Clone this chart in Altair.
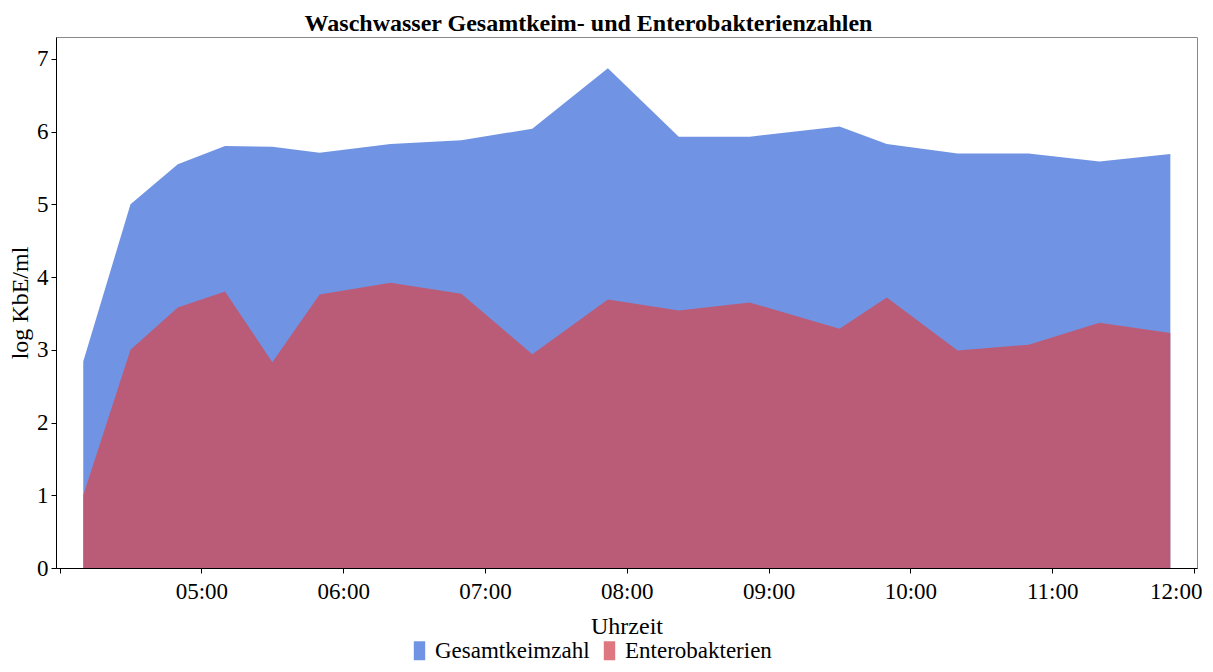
import altair as alt
import pandas as pd

# ---- data ----
times = ["04:10", "04:30", "04:50", "05:10", "05:30", "05:50", "06:20", "06:50", "07:20",
         "07:52", "08:22", "08:52", "09:30", "09:50", "10:20", "10:50", "11:20", "11:50"]
gesamt = [2.84, 5.00, 5.55, 5.80, 5.79, 5.71, 5.83, 5.88, 6.04,
          6.87, 5.93, 5.93, 6.07, 5.83, 5.70, 5.70, 5.59, 5.69]
entero = [1.00, 3.00, 3.58, 3.80, 2.83, 3.76, 3.92, 3.77, 2.94,
          3.69, 3.54, 3.65, 3.29, 3.72, 2.99, 3.07, 3.37, 3.23]
series_names = ["Gesamtkeimzahl", "Enterobakterien"]
series_colors = ["#4070DA", "#D34954"]
hour_ticks = [4, 5, 6, 7, 8, 9, 10, 11, 12]


def to_hours(t):
    h, m = t.split(":")
    return int(h) + int(m) / 60.0


df = pd.DataFrame({
    "Uhrzeit": [to_hours(t) for t in times] * 2,
    "Wert": gesamt + entero,
    "Reihe": [series_names[0]] * len(times) + [series_names[1]] * len(times),
})

FONT = "Liberation Serif"

x_enc = alt.X(
    "Uhrzeit:Q",
    title="Uhrzeit",
    scale=alt.Scale(domain=[3.9746, 12.0213], nice=False, zero=False),
    axis=alt.Axis(
        values=hour_ticks,
        labelExpr="datum.value == 4 ? '' : (datum.value < 10 ? '0' : '') + datum.value + ':00'",
        tickSize=5, labelPadding=7, titlePadding=11,
        labelFontSize=23, titleFontSize=24, titleFontWeight="normal",
        domainColor="black", tickColor="black", labelColor="black", titleColor="black",
        grid=False, labelFlush=6, labelFlushOffset=8,
    ),
)
y_enc = alt.Y(
    "Wert:Q",
    title="log KbE/ml",
    stack=None,
    scale=alt.Scale(domain=[0, 7.3], nice=False),
    axis=alt.Axis(
        values=[0, 1, 2, 3, 4, 5, 6, 7],
        tickSize=5, labelPadding=3, titlePadding=4,
        labelFontSize=23, titleFontSize=24, titleFontWeight="normal",
        domainColor="black", tickColor="black", labelColor="black", titleColor="black",
        grid=False, labelFlush=False,
    ),
)
color_enc = alt.Color(
    "Reihe:N",
    scale=alt.Scale(domain=series_names, range=series_colors),
    legend=alt.Legend(
        title=None, orient="none", direction="horizontal",
        legendX=352, legendY=602,
        symbolType="M-0.6,-1H0.6V1H-0.6Z", symbolSize=361,
        symbolOpacity=0.75, symbolStrokeWidth=0,
        labelFontSize=23, labelColor="black", labelOffset=4, columnPadding=8,
        labelFont=FONT, labelLimit=0,
    ),
)

base = alt.Chart(df)
blue = base.transform_filter(alt.datum.Reihe == series_names[0]).mark_area(opacity=0.75).encode(
    x=x_enc, y=y_enc, color=color_enc)
red = base.transform_filter(alt.datum.Reihe == series_names[1]).mark_area(opacity=0.75).encode(
    x=x_enc, y=y_enc, color=color_enc)

chart = alt.layer(blue, red).properties(
    width=1141,
    height=531,
    title=alt.TitleParams(
        "Waschwasser Gesamtkeim- und Enterobakterienzahlen",
        fontSize=24, fontWeight="bold", font=FONT, color="black",
        anchor="middle", dx=-38, offset=1,
    ),
    padding={"left": 0, "top": 4, "right": 0, "bottom": 0},
).configure(font=FONT).configure_view(stroke="#888888", strokeWidth=1)

chart.save("out.html", embed_options={"renderer": "svg", "actions": False})
